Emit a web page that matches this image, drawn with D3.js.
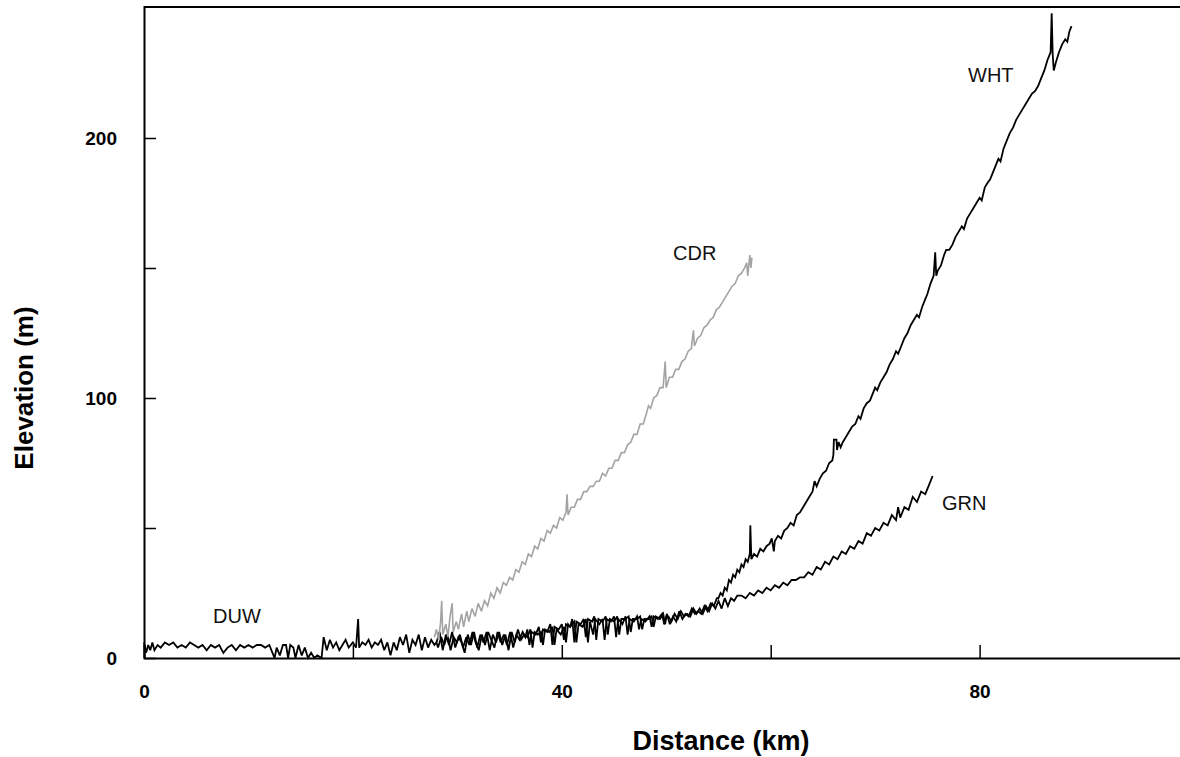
<!DOCTYPE html>
<html><head><meta charset="utf-8">
<script src="https://cdn.jsdelivr.net/npm/d3@7"></script>
<style>
html,body{margin:0;padding:0;background:#fff;}
svg{display:block;font-family:"Liberation Sans",Arial,sans-serif;}
</style></head>
<body>
<svg id="chart" width="1180" height="757"></svg>
<script>
// ---- data: [distance km, elevation m] ----
const duwData = [[0,6],[0.2,2],[0.4,5],[0.6,3],[0.8,6],[1.0,3],[1.3,5],[1.6,4],[2.0,6],[2.4,5],[2.8,6],[3.2,4],[3.6,5],[4.0,4],[4.4,6],[4.8,5],[5.2,4],[5.6,5],[6.0,3],[6.4,5],[6.8,4],[7.2,5],[7.6,2],[8.0,4],[8.4,5],[8.8,3],[9.2,5],[9.6,4],[10.0,5],[10.4,4],[10.8,5],[11.2,5],[11.6,4],[12.0,5],[12.3,2],[12.5,0],[12.7,4],[13.0,1],[13.3,5],[13.6,5],[13.8,0],[14.0,5],[14.3,4],[14.5,0],[14.8,5],[15.1,1],[15.4,4],[15.7,0],[16.0,2],[16.3,0],[16.6,1],[17.0,0],[17.2,8],[17.5,3],[17.8,7],[18.1,4],[18.4,6],[18.7,3],[19.0,5],[19.3,7],[19.6,4],[20.0,6],[20.3,4],[20.5,15],[20.6,4],[20.9,6],[21.2,5],[21.5,7],[21.8,4],[22.1,6],[22.4,5],[22.7,7],[23.0,3],[23.3,6],[23.6,1],[23.9,6],[24.2,3],[24.5,8],[24.8,5],[25.1,9],[25.4,2],[25.7,7],[26.0,5],[26.3,9],[26.6,3],[26.9,8],[27.2,4],[27.5,7],[27.8,5],[28.0,6]];

const grnData = [[28.0,6],[28.3,10],[28.6,3],[28.9,9],[29.2,5],[29.5,10],[29.8,4],[30.1,8],[30.4,6],[30.7,2],[31.0,9],[31.3,5],[31.6,10],[31.9,4],[32.2,9],[32.5,6],[32.8,10],[33.1,3],[33.4,9],[33.7,6],[34.0,10],[34.3,5],[34.6,9],[34.9,3],[35.2,10],[35.5,6],[35.8,11],[36.1,7],[36.4,9],[36.7,8],[37.0,11],[37.2,4],[37.4,10],[37.7,9],[38.0,10],[38.2,5],[38.4,11],[38.8,10],[39.1,12],[39.3,5],[39.5,11],[39.9,9],[40.2,12],[40.4,6],[40.6,13],[40.8,12],[41.2,14],[41.4,6],[41.6,13],[42.0,12],[42.3,15],[42.5,6],[42.7,14],[43.0,9],[43.2,15],[43.6,13],[43.9,15],[44.1,7],[44.3,15],[44.7,14],[45.0,16],[45.2,8],[45.4,15],[45.8,13],[46.1,16],[46.3,9],[46.5,15],[46.9,14],[47.2,16],[47.4,11],[47.6,15],[48.0,14],[48.4,16],[48.6,12],[48.8,16],[49.2,15],[49.6,17],[49.8,13],[50.0,16],[50.2,16],[50.5,14],[50.8,17],[51.1,15],[51.4,18],[51.7,16],[52.0,17],[52.3,16],[52.6,19],[52.9,17],[53.2,19],[53.5,17],[53.8,20],[54.1,18],[54.4,21],[54.7,19],[55.0,22],[55.3,19],[55.6,23],[55.9,20],[56.2,23],[56.5,22],[56.8,24],[57.2,24],[57.6,23],[58.0,25],[58.4,24],[58.8,26],[59.2,25],[59.6,27],[60.0,26],[60.4,28],[60.8,27],[61.2,29],[61.6,28],[62.0,30],[62.4,30],[62.8,31],[63.2,31],[63.6,33],[64.0,32],[64.4,35],[64.8,34],[65.2,37],[65.6,36],[66.0,39],[66.4,38],[66.8,41],[67.2,40],[67.6,43],[68.0,42],[68.4,45],[68.8,44],[69.2,48],[69.6,47],[70.0,50],[70.4,49],[70.8,52],[71.2,51],[71.6,55],[72.0,53],[72.2,58],[72.4,54],[72.8,58],[73.2,57],[73.6,62],[74.0,60],[74.4,64],[74.8,63],[75.2,67],[75.5,70]];

const whtData = [[28.0,6],[28.15,4],[28.45,8],[28.75,5],[29.05,9],[29.35,3],[29.65,8],[29.95,6],[30.25,9],[30.55,4],[30.85,8],[31.15,5],[31.45,10],[31.75,6],[32.05,3],[32.35,9],[32.65,5],[32.95,10],[33.25,7],[33.55,4],[33.85,10],[34.15,6],[34.45,9],[34.75,5],[35.05,10],[35.35,4],[35.65,9],[35.95,7],[36.25,10],[36.5,8],[36.7,11],[36.9,5],[37.1,10],[37.5,9],[37.8,12],[38.0,6],[38.2,11],[38.6,10],[38.9,13],[39.1,5],[39.3,12],[39.7,11],[40.0,13],[40.2,7],[40.4,13],[40.8,12],[41.0,15],[41.2,6],[41.4,14],[41.8,13],[42.1,15],[42.3,8],[42.5,15],[42.9,14],[43.1,16],[43.3,7],[43.5,15],[43.9,14],[44.2,16],[44.4,9],[44.6,15],[45.0,14],[45.3,16],[45.5,9],[45.7,15],[46.1,15],[46.4,16],[46.6,10],[46.8,15],[47.2,15],[47.5,16],[47.7,11],[47.9,15],[48.3,15],[48.6,16],[48.8,12],[49.0,16],[49.4,15],[49.7,17],[49.9,13],[50.05,17],[50.35,13],[50.65,16],[50.95,14],[51.25,18],[51.55,15],[51.85,17],[52.15,16],[52.45,19],[52.75,17],[53.05,18],[53.35,17],[53.65,20],[53.95,18],[54.25,21],[54.55,20],[54.85,23],[55.0,23],[55.2,25],[55.4,24],[55.6,27],[55.8,26],[56.0,30],[56.2,29],[56.4,32],[56.6,31],[56.8,34],[57.0,33],[57.2,36],[57.4,35],[57.6,38],[57.8,37],[58.0,40],[58.05,51],[58.15,38],[58.4,40],[58.7,39],[59.0,42],[59.3,41],[59.6,43],[59.9,44],[60.1,46],[60.3,41],[60.4,45],[60.7,47],[61.0,46],[61.3,49],[61.6,50],[61.9,52],[62.2,51],[62.5,55],[62.8,56],[63.1,58],[63.4,60],[63.7,62],[64.0,64],[64.2,68],[64.4,66],[64.7,69],[65.0,71],[65.3,72],[65.6,75],[65.9,76],[66.0,78],[66.05,84],[66.3,84],[66.35,80],[66.5,83],[66.7,81],[66.9,83],[67.2,85],[67.5,87],[67.8,89],[68.1,90],[68.4,93],[68.6,92],[68.9,96],[69.2,98],[69.5,99],[69.8,102],[70.0,104],[70.2,103],[70.5,106],[70.8,108],[71.1,110],[71.4,113],[71.7,115],[72.0,118],[72.2,117],[72.5,120],[72.8,123],[73.1,125],[73.4,128],[73.7,130],[74.0,132],[74.2,131],[74.5,135],[74.8,138],[75.0,140],[75.3,144],[75.6,147],[75.75,156],[75.85,147],[76.0,149],[76.3,151],[76.6,155],[76.8,157],[77.1,157],[77.4,159],[77.7,162],[78.0,164],[78.3,166],[78.5,165],[78.8,169],[79.1,171],[79.4,173],[79.7,175],[80.0,177],[80.2,176],[80.5,181],[80.8,183],[81.0,184],[81.2,186],[81.5,189],[81.8,192],[82.0,191],[82.3,196],[82.6,199],[82.9,202],[83.2,204],[83.5,207],[83.8,209],[84.1,211],[84.4,213],[84.7,215],[85.0,217],[85.3,218],[85.6,220],[85.9,223],[86.2,226],[86.5,230],[86.8,233],[86.9,248],[87.0,232],[87.1,226],[87.3,229],[87.6,233],[87.9,236],[88.2,238],[88.4,237],[88.6,241],[88.8,243]];

const cdrData = [[27.8,8],[28.0,11],[28.2,7],[28.4,14],[28.5,22],[28.6,9],[28.9,13],[29.1,8],[29.3,16],[29.5,21],[29.6,10],[29.9,14],[30.1,11],[30.4,17],[30.6,12],[30.9,18],[31.1,14],[31.4,19],[31.7,16],[32.0,21],[32.3,18],[32.6,22],[32.9,20],[33.2,25],[33.5,23],[33.8,27],[34.1,25],[34.4,29],[34.7,28],[35.0,31],[35.3,30],[35.6,34],[35.9,33],[36.2,37],[36.5,36],[36.8,40],[37.1,39],[37.4,43],[37.7,42],[38.0,46],[38.3,45],[38.6,49],[38.9,48],[39.2,51],[39.5,50],[39.8,54],[40.1,53],[40.4,56],[40.5,63],[40.6,55],[40.9,58],[41.2,58],[41.5,61],[41.8,61],[42.1,64],[42.4,64],[42.7,66],[43.0,66],[43.3,68],[43.6,68],[43.9,71],[44.2,70],[44.5,73],[44.8,73],[45.1,76],[45.4,76],[45.7,79],[46.0,79],[46.3,82],[46.6,83],[46.9,86],[47.2,86],[47.5,90],[47.8,90],[48.1,94],[48.3,97],[48.5,96],[48.8,100],[49.1,101],[49.4,104],[49.7,104],[49.9,114],[50.0,104],[50.3,108],[50.6,108],[50.9,111],[51.2,111],[51.5,114],[51.8,115],[52.1,118],[52.4,119],[52.6,126],[52.7,120],[53.0,123],[53.3,124],[53.6,127],[53.9,128],[54.2,130],[54.5,131],[54.8,134],[55.1,135],[55.4,137],[55.7,139],[56.0,141],[56.3,143],[56.6,144],[56.9,147],[57.2,148],[57.5,150],[57.7,152],[57.8,147],[58.0,155],[58.1,150],[58.2,154]];

const xTicks = [0,20,40,60,80];
const xLabels = ["0","","40","","80"];
const yTicks = [0,50,100,150,200];
const yLabels = ["0","","100","","200"];
const seriesNames = ["DUW","CDR","WHT","GRN"];

// ---- chart ----
const svg = d3.select("#chart");
const x = d3.scaleLinear().domain([0,100]).range([144,1188.5]);
const y = d3.scaleLinear().domain([0,250]).range([658,8]);
const line = d3.line().x(d=>x(d[0])).y(d=>y(d[1]));

const series = [
  {name:"DUW", data:duwData, color:"#000", w:1.8},
  {name:"GRN", data:grnData, color:"#000", w:1.8},
  {name:"WHT", data:whtData, color:"#000", w:1.8},
  {name:"CDR", data:cdrData, color:"#a3a3a3", w:1.6}
];

svg.append("line").attr("x1",x(0)).attr("x2",1180).attr("y1",y(250)-1).attr("y2",y(250)-1)
  .attr("stroke","#000").attr("stroke-width",2);

series.forEach(s=>{
  svg.append("path").datum(s.data).attr("d",line)
    .attr("fill","none").attr("stroke",s.color).attr("stroke-width",s.w)
    .attr("stroke-linejoin","miter").attr("stroke-miterlimit",3);
});

const xAxis = d3.axisBottom(x).tickValues(xTicks).tickSize(-13).tickPadding(27)
  .tickFormat((d,i)=>xLabels[i]);
const gx = svg.append("g").attr("transform",`translate(0,${y(0)})`).call(xAxis);
const yAxis = d3.axisLeft(y).tickValues(yTicks).tickSize(-12).tickPadding(27)
  .tickFormat((d,i)=>yLabels[i]);
const gy = svg.append("g").attr("transform",`translate(${x(0)},0)`).call(yAxis);

[gx,gy].forEach(g=>{
  g.select(".domain").attr("stroke","#000").attr("stroke-width",2);
  g.selectAll(".tick line").attr("stroke","#000").attr("stroke-width",1.5);
  g.selectAll("text").attr("font-family","'Liberation Sans',Arial,sans-serif")
    .attr("font-size",19).attr("font-weight","bold").attr("fill","#000");
});
gy.select(".domain").attr("d",`M0.5,${y(250)-2}V${y(0)}`);

svg.append("text").attr("x",721).attr("y",750).attr("text-anchor","middle")
  .attr("font-size",27).attr("font-weight","bold").text("Distance (km)");
svg.append("text").attr("transform","translate(33,388) rotate(-90)").attr("text-anchor","middle")
  .attr("font-size",26).attr("font-weight","bold").text("Elevation (m)");

const labelPos = {DUW:[213,623], CDR:[673,260], WHT:[968,82], GRN:[942,510]};
seriesNames.forEach(n=>{
  svg.append("text").attr("x",labelPos[n][0]).attr("y",labelPos[n][1])
    .attr("font-size",20).attr("fill","#111").text(n);
});
</script>
</body></html>
